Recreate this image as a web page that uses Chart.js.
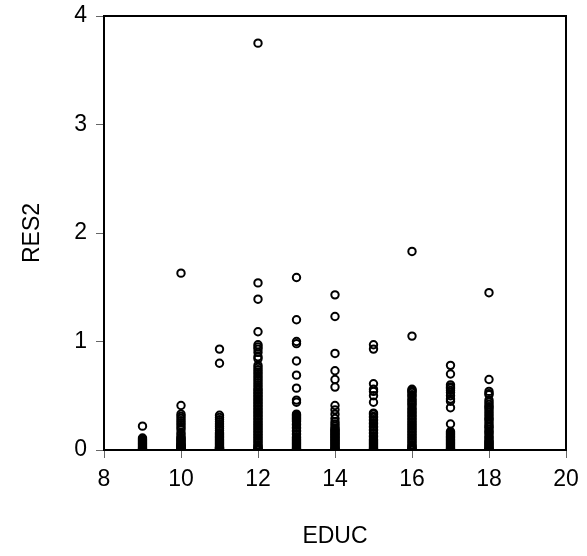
<!DOCTYPE html>
<html lang="en">
<head>
  <meta charset="UTF-8" />
  <title>RES2 vs EDUC</title>
  <script src="https://cdn.jsdelivr.net/npm/chart.js"></script>
  <style>
    body {
      margin: 0;
      background-color: #fff;
    }
    #chartBox {
      width: 587px;
      height: 556px;
    }
  </style>
</head>
<body>
  <div id="chartBox">
    <canvas id="scatterChart" width="587" height="556"></canvas>
  </div>

  <script>
    // years of education (x) and the squared residuals read per column (y)
    const educLevels = [9, 10, 11, 12, 13, 14, 15, 16, 17, 18];

    const res2_9 = [0.22, 0.11, 0.10, 0.09, 0.08, 0.07, 0.06, 0.05, 0.04, 0.03, 0.02, 0.01, 0.005];
    const res2_10 = [1.63, 0.41, 0.33, 0.31, 0.29, 0.27, 0.25, 0.23, 0.21, 0.19, 0.16, 0.14, 0.12, 0.11, 0.10,
      0.09, 0.08, 0.07, 0.06, 0.05, 0.045, 0.04, 0.035, 0.03, 0.025, 0.02, 0.015, 0.01, 0.005, 0.002];
    const res2_11 = [0.93, 0.80, 0.32, 0.30, 0.28, 0.26, 0.24, 0.22, 0.20, 0.18, 0.16, 0.15, 0.14, 0.13, 0.12,
      0.11, 0.10, 0.09, 0.08, 0.07, 0.06, 0.05, 0.04, 0.03, 0.025, 0.02, 0.015, 0.01, 0.005, 0.002];
    const res2_12 = [3.75, 1.54, 1.39, 1.09, 0.97, 0.95, 0.93, 0.90, 0.86, 0.84, 0.78, 0.76, 0.74, 0.72, 0.70,
      0.68, 0.66, 0.64, 0.62, 0.60, 0.58, 0.56, 0.55, 0.53, 0.52, 0.50, 0.49, 0.47, 0.46, 0.44, 0.43, 0.41,
      0.40, 0.38, 0.37, 0.35, 0.34, 0.32, 0.31, 0.29, 0.28, 0.26, 0.25, 0.23, 0.22, 0.20, 0.19, 0.17, 0.16,
      0.14, 0.13, 0.11, 0.10, 0.08, 0.07, 0.05, 0.04, 0.03, 0.02, 0.01, 0.005, 0.002];
    const res2_13 = [1.59, 1.20, 1.00, 0.98, 0.82, 0.69, 0.57, 0.46, 0.44, 0.33, 0.32, 0.31, 0.30, 0.29, 0.28,
      0.27, 0.26, 0.24, 0.23, 0.21, 0.20, 0.18, 0.17, 0.15, 0.14, 0.12, 0.11, 0.10, 0.09, 0.08, 0.07, 0.06,
      0.05, 0.04, 0.03, 0.02, 0.01, 0.005, 0.002];
    const res2_14 = [1.43, 1.23, 0.89, 0.73, 0.65, 0.58, 0.41, 0.37, 0.33, 0.29, 0.26, 0.24, 0.22, 0.20, 0.19,
      0.18, 0.17, 0.16, 0.15, 0.14, 0.13, 0.12, 0.11, 0.10, 0.09, 0.08, 0.07, 0.06, 0.05, 0.04, 0.03, 0.02,
      0.01, 0.005, 0.002];
    const res2_15 = [0.97, 0.93, 0.61, 0.56, 0.54, 0.50, 0.44, 0.34, 0.33, 0.31, 0.30, 0.28, 0.27, 0.25, 0.24,
      0.22, 0.21, 0.19, 0.18, 0.16, 0.15, 0.13, 0.12, 0.10, 0.09, 0.08, 0.07, 0.06, 0.05, 0.04, 0.03, 0.02,
      0.01, 0.005, 0.002];
    const res2_16 = [1.83, 1.05, 0.56, 0.55, 0.54, 0.53, 0.51, 0.50, 0.48, 0.46, 0.45, 0.43, 0.42, 0.40, 0.38,
      0.37, 0.35, 0.34, 0.32, 0.31, 0.29, 0.28, 0.26, 0.25, 0.23, 0.22, 0.20, 0.19, 0.17, 0.16, 0.14, 0.13,
      0.11, 0.10, 0.08, 0.07, 0.05, 0.04, 0.03, 0.02, 0.01, 0.005, 0.002];
    const res2_17 = [0.78, 0.70, 0.60, 0.58, 0.57, 0.55, 0.53, 0.50, 0.47, 0.45, 0.39, 0.24, 0.17, 0.16, 0.15,
      0.14, 0.13, 0.12, 0.11, 0.10, 0.09, 0.08, 0.07, 0.06, 0.05, 0.04, 0.03, 0.02, 0.01, 0.005, 0.002];
    const res2_18 = [1.45, 0.65, 0.54, 0.52, 0.51, 0.46, 0.44, 0.42, 0.40, 0.39, 0.37, 0.35, 0.33, 0.31, 0.29,
      0.28, 0.26, 0.24, 0.22, 0.21, 0.19, 0.17, 0.16, 0.14, 0.12, 0.11, 0.09, 0.08, 0.07, 0.06, 0.05, 0.04,
      0.03, 0.02, 0.01, 0.005, 0.002];

    const res2Columns = [res2_9, res2_10, res2_11, res2_12, res2_13, res2_14, res2_15, res2_16, res2_17, res2_18];

    const xTicks = [8, 10, 12, 14, 16, 18, 20];
    const yTicks = [0, 1, 2, 3, 4];

    // one flat list of {x, y} points for the scatter
    const points = [];
    educLevels.forEach((educ, i) => {
      res2Columns[i].forEach(v => points.push({ x: educ, y: v }));
    });

    // box around the plot area
    const frameBox = {
      id: 'frameBox',
      afterDraw(chart) {
        const a = chart.chartArea;
        const c = chart.ctx;
        c.save();
        c.strokeStyle = '#000';
        c.lineWidth = 2;
        c.strokeRect(a.left, a.top, a.right - a.left, a.bottom - a.top);
        c.restore();
      }
    };

    Chart.defaults.font.family = "'Liberation Sans', Arial, sans-serif";
    Chart.defaults.font.size = 23;
    Chart.defaults.color = '#000';

    new Chart(document.getElementById('scatterChart').getContext('2d'), {
      type: 'scatter',
      data: {
        datasets: [{
          label: 'RES2',
          data: points,
          pointRadius: 3.7,
          pointHoverRadius: 3.7,
          pointBorderWidth: 2,
          pointBorderColor: '#000',
          pointBackgroundColor: 'rgba(0,0,0,0)',
          clip: 0
        }]
      },
      options: {
        responsive: false,
        animation: false,
        layout: { padding: { top: 16, right: 21, bottom: 0, left: 0 } },
        plugins: {
          legend: { display: false },
          tooltip: { enabled: false }
        },
        scales: {
          x: {
            type: 'linear',
            min: 8,
            max: 20,
            afterFit: s => { s.height = 106; s.paddingLeft = 0; s.paddingRight = 0; },
            afterBuildTicks: s => { s.ticks = xTicks.map(v => ({ value: v })); },
            grid: { drawOnChartArea: false, drawTicks: true, tickLength: 8, color: '#666', lineWidth: 1 },
            border: { display: false },
            ticks: { padding: 8, maxRotation: 0 },
            title: { display: true, text: 'EDUC', padding: { top: 0, bottom: 6 } }
          },
          y: {
            type: 'linear',
            min: 0,
            max: 4,
            afterFit: s => { s.width = 104; s.paddingTop = 0; s.paddingBottom = 0; },
            afterBuildTicks: s => { s.ticks = yTicks.map(v => ({ value: v })); },
            grid: { drawOnChartArea: false, drawTicks: true, tickLength: 8, color: '#666', lineWidth: 1 },
            border: { display: false },
            ticks: { padding: 9 },
            title: { display: true, text: 'RES2', padding: { top: 19, bottom: 0 } }
          }
        }
      },
      plugins: [frameBox]
    });
  </script>
</body>
</html>
